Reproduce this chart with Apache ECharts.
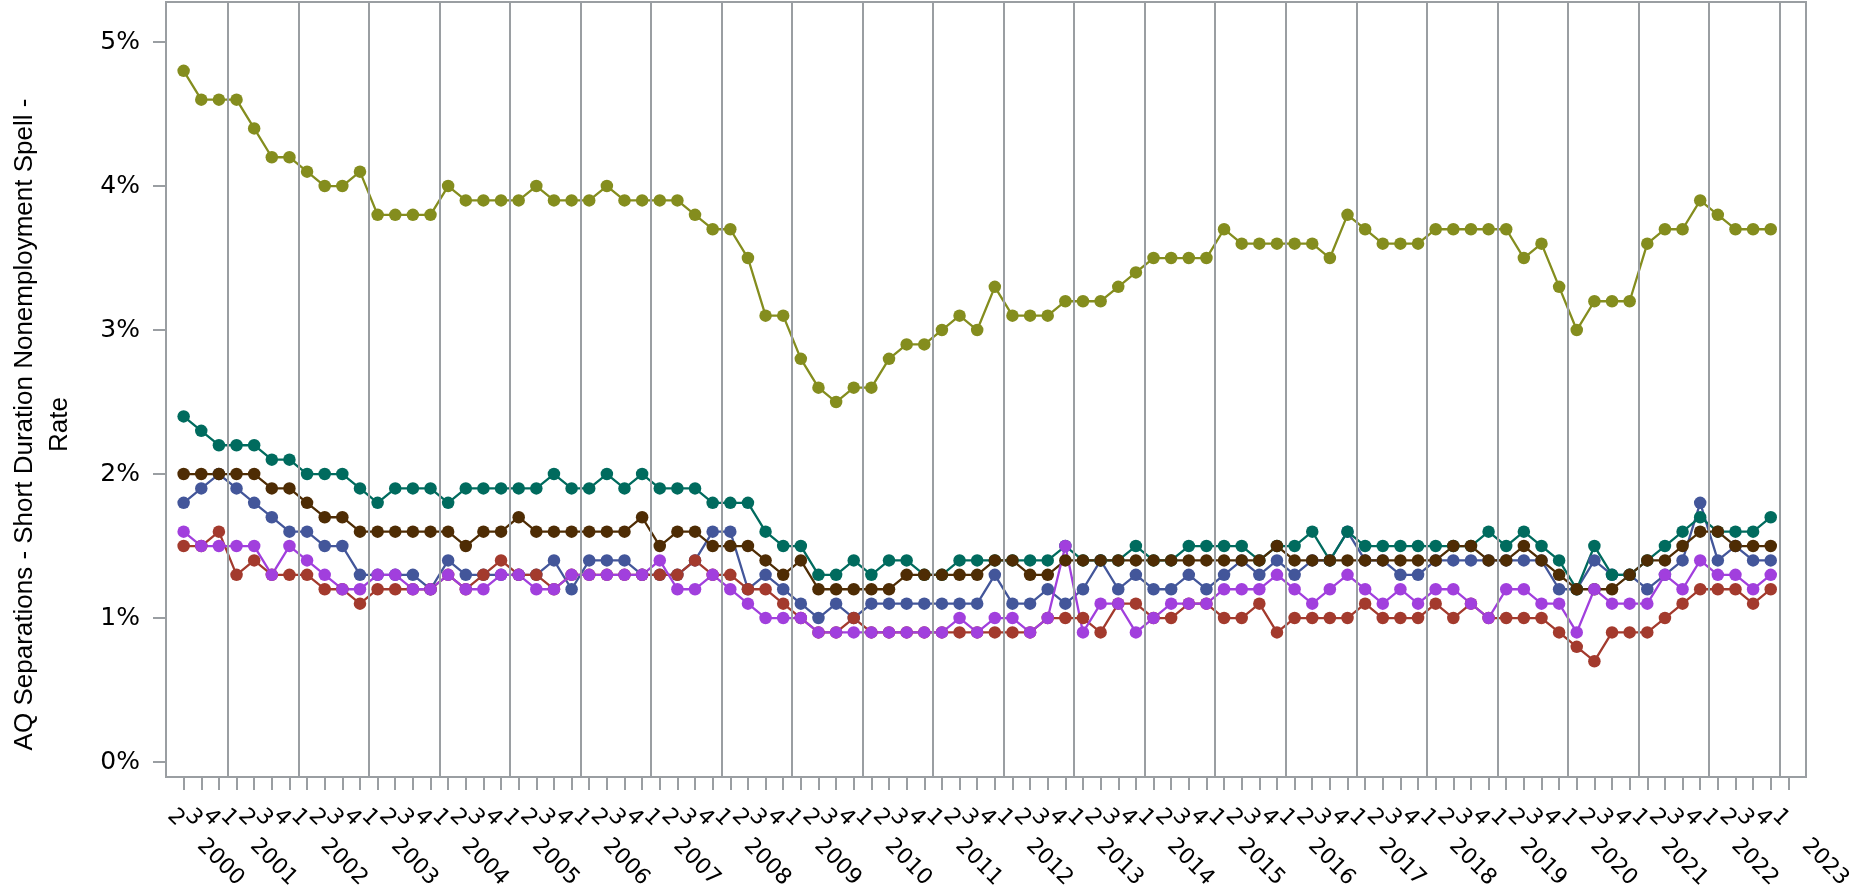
<!DOCTYPE html>
<html>
<head>
<meta charset="utf-8">
<title>AQ Separations - Short Duration Nonemployment Spell - Rate</title>
<script src="https://cdn.jsdelivr.net/npm/echarts@6/dist/echarts.min.js"></script>
<style>
  html, body { margin: 0; padding: 0; background: #ffffff; }
  #chart { width: 1866px; height: 890px; }
</style>
</head>
<body>
<div id="chart"></div>
<script>
// Quarterly categories, 2000 Q2 through 2023 Q1
const categories = [
  '2000Q2','2000Q3','2000Q4',
  '2001Q1','2001Q2','2001Q3','2001Q4',
  '2002Q1','2002Q2','2002Q3','2002Q4',
  '2003Q1','2003Q2','2003Q3','2003Q4',
  '2004Q1','2004Q2','2004Q3','2004Q4',
  '2005Q1','2005Q2','2005Q3','2005Q4',
  '2006Q1','2006Q2','2006Q3','2006Q4',
  '2007Q1','2007Q2','2007Q3','2007Q4',
  '2008Q1','2008Q2','2008Q3','2008Q4',
  '2009Q1','2009Q2','2009Q3','2009Q4',
  '2010Q1','2010Q2','2010Q3','2010Q4',
  '2011Q1','2011Q2','2011Q3','2011Q4',
  '2012Q1','2012Q2','2012Q3','2012Q4',
  '2013Q1','2013Q2','2013Q3','2013Q4',
  '2014Q1','2014Q2','2014Q3','2014Q4',
  '2015Q1','2015Q2','2015Q3','2015Q4',
  '2016Q1','2016Q2','2016Q3','2016Q4',
  '2017Q1','2017Q2','2017Q3','2017Q4',
  '2018Q1','2018Q2','2018Q3','2018Q4',
  '2019Q1','2019Q2','2019Q3','2019Q4',
  '2020Q1','2020Q2','2020Q3','2020Q4',
  '2021Q1','2021Q2','2021Q3','2021Q4',
  '2022Q1','2022Q2','2022Q3','2022Q4',
  '2023Q1'
];

// Rates in percent, one value per quarter from 2000 Q2 to 2022 Q4
const oliveSeries = [
  4.8, 4.6, 4.6,
  4.6, 4.4, 4.2, 4.2,
  4.1, 4.0, 4.0, 4.1,
  3.8, 3.8, 3.8, 3.8,
  4.0, 3.9, 3.9, 3.9,
  3.9, 4.0, 3.9, 3.9,
  3.9, 4.0, 3.9, 3.9,
  3.9, 3.9, 3.8, 3.7,
  3.7, 3.5, 3.1, 3.1,
  2.8, 2.6, 2.5, 2.6,
  2.6, 2.8, 2.9, 2.9,
  3.0, 3.1, 3.0, 3.3,
  3.1, 3.1, 3.1, 3.2,
  3.2, 3.2, 3.3, 3.4,
  3.5, 3.5, 3.5, 3.5,
  3.7, 3.6, 3.6, 3.6,
  3.6, 3.6, 3.5, 3.8,
  3.7, 3.6, 3.6, 3.6,
  3.7, 3.7, 3.7, 3.7,
  3.7, 3.5, 3.6, 3.3,
  3.0, 3.2, 3.2, 3.2,
  3.6, 3.7, 3.7, 3.9,
  3.8, 3.7, 3.7, 3.7
];

const tealSeries = [
  2.4, 2.3, 2.2,
  2.2, 2.2, 2.1, 2.1,
  2.0, 2.0, 2.0, 1.9,
  1.8, 1.9, 1.9, 1.9,
  1.8, 1.9, 1.9, 1.9,
  1.9, 1.9, 2.0, 1.9,
  1.9, 2.0, 1.9, 2.0,
  1.9, 1.9, 1.9, 1.8,
  1.8, 1.8, 1.6, 1.5,
  1.5, 1.3, 1.3, 1.4,
  1.3, 1.4, 1.4, 1.3,
  1.3, 1.4, 1.4, 1.4,
  1.4, 1.4, 1.4, 1.5,
  1.4, 1.4, 1.4, 1.5,
  1.4, 1.4, 1.5, 1.5,
  1.5, 1.5, 1.4, 1.5,
  1.5, 1.6, 1.4, 1.6,
  1.5, 1.5, 1.5, 1.5,
  1.5, 1.5, 1.5, 1.6,
  1.5, 1.6, 1.5, 1.4,
  1.2, 1.5, 1.3, 1.3,
  1.4, 1.5, 1.6, 1.7,
  1.6, 1.6, 1.6, 1.7
];

const brownSeries = [
  2.0, 2.0, 2.0,
  2.0, 2.0, 1.9, 1.9,
  1.8, 1.7, 1.7, 1.6,
  1.6, 1.6, 1.6, 1.6,
  1.6, 1.5, 1.6, 1.6,
  1.7, 1.6, 1.6, 1.6,
  1.6, 1.6, 1.6, 1.7,
  1.5, 1.6, 1.6, 1.5,
  1.5, 1.5, 1.4, 1.3,
  1.4, 1.2, 1.2, 1.2,
  1.2, 1.2, 1.3, 1.3,
  1.3, 1.3, 1.3, 1.4,
  1.4, 1.3, 1.3, 1.4,
  1.4, 1.4, 1.4, 1.4,
  1.4, 1.4, 1.4, 1.4,
  1.4, 1.4, 1.4, 1.5,
  1.4, 1.4, 1.4, 1.4,
  1.4, 1.4, 1.4, 1.4,
  1.4, 1.5, 1.5, 1.4,
  1.4, 1.5, 1.4, 1.3,
  1.2, 1.2, 1.2, 1.3,
  1.4, 1.4, 1.5, 1.6,
  1.6, 1.5, 1.5, 1.5
];

const blueSeries = [
  1.8, 1.9, 2.0,
  1.9, 1.8, 1.7, 1.6,
  1.6, 1.5, 1.5, 1.3,
  1.3, 1.3, 1.3, 1.2,
  1.4, 1.3, 1.3, 1.3,
  1.3, 1.3, 1.4, 1.2,
  1.4, 1.4, 1.4, 1.3,
  1.3, 1.3, 1.4, 1.6,
  1.6, 1.2, 1.3, 1.2,
  1.1, 1.0, 1.1, 1.0,
  1.1, 1.1, 1.1, 1.1,
  1.1, 1.1, 1.1, 1.3,
  1.1, 1.1, 1.2, 1.1,
  1.2, 1.4, 1.2, 1.3,
  1.2, 1.2, 1.3, 1.2,
  1.3, 1.4, 1.3, 1.4,
  1.3, 1.4, 1.4, 1.6,
  1.4, 1.4, 1.3, 1.3,
  1.4, 1.4, 1.4, 1.4,
  1.4, 1.4, 1.4, 1.2,
  1.2, 1.4, 1.3, 1.3,
  1.2, 1.3, 1.4, 1.8,
  1.4, 1.5, 1.4, 1.4
];

const purpleSeries = [
  1.6, 1.5, 1.5,
  1.5, 1.5, 1.3, 1.5,
  1.4, 1.3, 1.2, 1.2,
  1.3, 1.3, 1.2, 1.2,
  1.3, 1.2, 1.2, 1.3,
  1.3, 1.2, 1.2, 1.3,
  1.3, 1.3, 1.3, 1.3,
  1.4, 1.2, 1.2, 1.3,
  1.2, 1.1, 1.0, 1.0,
  1.0, 0.9, 0.9, 0.9,
  0.9, 0.9, 0.9, 0.9,
  0.9, 1.0, 0.9, 1.0,
  1.0, 0.9, 1.0, 1.5,
  0.9, 1.1, 1.1, 0.9,
  1.0, 1.1, 1.1, 1.1,
  1.2, 1.2, 1.2, 1.3,
  1.2, 1.1, 1.2, 1.3,
  1.2, 1.1, 1.2, 1.1,
  1.2, 1.2, 1.1, 1.0,
  1.2, 1.2, 1.1, 1.1,
  0.9, 1.2, 1.1, 1.1,
  1.1, 1.3, 1.2, 1.4,
  1.3, 1.3, 1.2, 1.3
];

const redSeries = [
  1.5, 1.5, 1.6,
  1.3, 1.4, 1.3, 1.3,
  1.3, 1.2, 1.2, 1.1,
  1.2, 1.2, 1.2, 1.2,
  1.3, 1.2, 1.3, 1.4,
  1.3, 1.3, 1.2, 1.3,
  1.3, 1.3, 1.3, 1.3,
  1.3, 1.3, 1.4, 1.3,
  1.3, 1.2, 1.2, 1.1,
  1.0, 0.9, 0.9, 1.0,
  0.9, 0.9, 0.9, 0.9,
  0.9, 0.9, 0.9, 0.9,
  0.9, 0.9, 1.0, 1.0,
  1.0, 0.9, 1.1, 1.1,
  1.0, 1.0, 1.1, 1.1,
  1.0, 1.0, 1.1, 0.9,
  1.0, 1.0, 1.0, 1.0,
  1.1, 1.0, 1.0, 1.0,
  1.1, 1.0, 1.1, 1.0,
  1.0, 1.0, 1.0, 0.9,
  0.8, 0.7, 0.9, 0.9,
  0.9, 1.0, 1.1, 1.2,
  1.2, 1.2, 1.1, 1.2
];

const yTickValues = [0, 1, 2, 3, 4, 5];
const yAxisTitle = 'AQ Separations - Short Duration Nonemployment Spell -\nRate';

const FRAME = '#9a9ea2';
const FONT = 'DejaVu Sans';

// The band axis carries one empty slot at each end so the first and last
// quarters sit a full step inside the frame.
const axisCategories = ['\u200b'].concat(categories, ['\u200b\u200b']);
const lastSlot = axisCategories.length - 1;

// Year boundaries fall halfway between a Q4 and the following Q1
const yearBoundaries = [];
categories.forEach((c, i) => {
  if (i > 0 && c.slice(5) === '1') yearBoundaries.push(i - 0.5);
});

function pairs(values) {
  return values.map((v, i) => [i + 1, v]);
}

function lineSeries(name, color, values) {
  return {
    name: name,
    type: 'line',
    xAxisIndex: 0,
    yAxisIndex: 0,
    data: pairs(values),
    symbol: 'circle',
    symbolSize: 12.5,
    showAllSymbol: true,
    itemStyle: { color: color },
    lineStyle: { color: color, width: 2.3 },
    emphasis: { disabled: true },
    z: 3
  };
}

const chart = echarts.init(document.getElementById('chart'), null, { renderer: 'canvas' });

chart.setOption({
  animation: false,
  backgroundColor: '#ffffff',
  grid: {
    left: 166, right: 60, top: 2, bottom: 113,
    containLabel: false,
    outerBoundsMode: 'none',
    show: true, borderColor: FRAME, borderWidth: 2, backgroundColor: 'transparent'
  },
  xAxis: [
    {
      type: 'category',
      data: axisCategories,
      boundaryGap: false,
      position: 'bottom',
      axisLine: { show: true, onZero: false, lineStyle: { color: FRAME, width: 2 } },
      axisTick: {
        show: true, length: 13,
        interval: function (index) { return index > 0 && index < lastSlot; },
        lineStyle: { color: FRAME, width: 2 }
      },
      splitLine: { show: false },
      axisLabel: {
        interval: 0,
        hideOverlap: false,
        rotate: -45,
        margin: 23,
        align: 'left',
        verticalAlign: 'top',
        padding: [7, 0, 0, 0],
        color: '#000',
        fontFamily: FONT,
        fontSize: 22,
        formatter: function (value, index) {
          const c = categories[index - 1];
          if (!c) return '';
          const q = c.slice(5);
          const y = c.slice(0, 4);
          if (index === 1 || q === '1') return '{q|' + q + '}{g| }{q|' + y + '}';
          return '{q|' + q + '}';
        },
        rich: {
          q: { fontFamily: FONT, fontSize: 22, color: '#000' },
          g: { width: 28 }
        }
      }
    },
    {
      // Numeric twin of the band axis, used to place the year dividers
      type: 'value',
      min: -1,
      max: categories.length,
      position: 'top',
      show: false,
      splitLine: { show: false }
    }
  ],
  yAxis: {
    type: 'value',
    min: -0.104,
    max: 5.278,
    axisLine: { show: true, onZero: false, lineStyle: { color: FRAME, width: 2 } },
    axisTick: {
      show: true, length: 13, customValues: yTickValues,
      lineStyle: { color: FRAME, width: 2 }
    },
    splitLine: { show: false },
    axisLabel: {
      customValues: yTickValues,
      margin: 26,
      color: '#000',
      fontFamily: FONT,
      fontSize: 25,
      formatter: function (v) { return v + '%'; }
    },
    name: yAxisTitle,
    nameLocation: 'middle',
    nameGap: 89,
    nameTextStyle: {
      color: '#000',
      fontFamily: 'Liberation Sans',
      fontSize: 26,
      lineHeight: 35,
      align: 'center',
      padding: [0, 70, 0, 0]
    }
  },
  series: [
    {
      name: 'year dividers',
      type: 'line',
      xAxisIndex: 1,
      yAxisIndex: 0,
      data: [],
      z: 1,
      markLine: {
        silent: true,
        symbol: 'none',
        label: { show: false },
        lineStyle: { color: FRAME, width: 2, type: 'solid' },
        data: yearBoundaries.map(b => ({ xAxis: b }))
      }
    },
    lineSeries('olive', '#848d1e', oliveSeries),
    lineSeries('blue', '#43569a', blueSeries),
    lineSeries('teal', '#006b5e', tealSeries),
    lineSeries('red', '#a33a2d', redSeries),
    lineSeries('brown', '#4e2c04', brownSeries),
    lineSeries('purple', '#a13fdd', purpleSeries)
  ]
});
</script>
</body>
</html>
